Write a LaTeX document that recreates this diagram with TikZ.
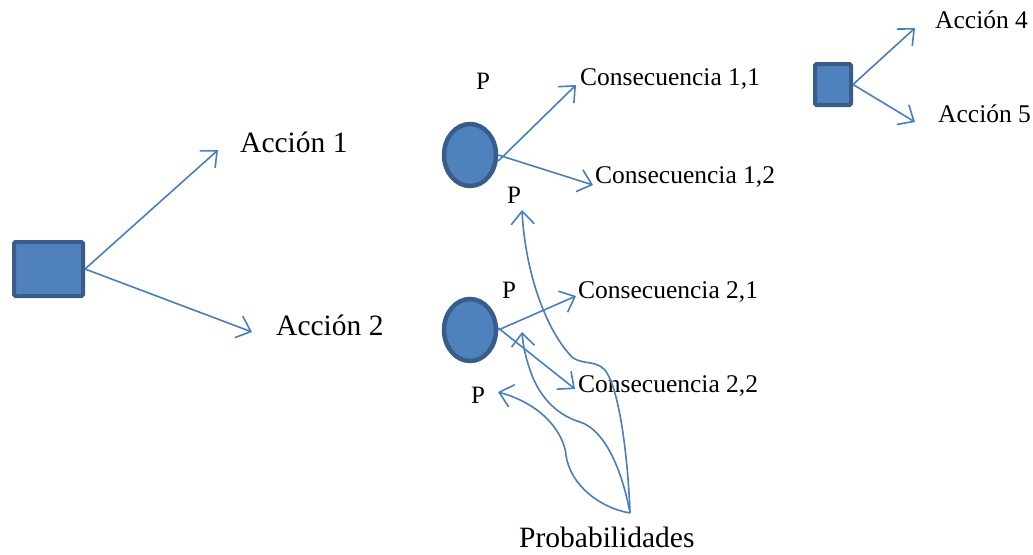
\documentclass[tikz,border=0pt]{standalone}
\usepackage{fontspec}
\setmainfont{Liberation Serif}
\usetikzlibrary{arrows.meta,shapes.geometric}
\definecolor{treeBlue}{HTML}{4F81BD}
\definecolor{treeEdge}{HTML}{385D8A}
\definecolor{treeLine}{HTML}{4A7EBB}

\begin{document}
\begin{tikzpicture}[x=1pt,y=-1pt]
    \tikzset{
        decision/.style={rectangle,draw=treeEdge,fill=treeBlue,line width=4pt,rounded corners=1.5pt,inner sep=0pt},
        chance/.style={ellipse,draw=treeEdge,fill=treeBlue,line width=4.5pt,minimum width=52pt,minimum height=62pt,inner sep=0pt},
        branch/.style={treeLine,line width=1.6pt,-{Straight Barb[length=13pt,width=23pt]}},
        lab/.style={anchor=base west,inner sep=0pt,font=\fontsize{25.5}{30}\selectfont},
        biglab/.style={lab,font=\fontsize{29.5}{34}\selectfont}
    }
    \useasboundingbox (0,0) rectangle (1033,554);

    % decision and chance nodes
    \node[decision,minimum width=69pt,minimum height=54pt] (root) at (48.5,269) {};
    \node[chance] (c1) at (470,155) {};
    \node[chance] (c2) at (470,330) {};
    \node[decision,minimum width=36pt,minimum height=41pt] (sq) at (833,84.5) {};

    % labels
    \node[biglab] (acc1) at (240,152) {Acción 1};
    \node[biglab] (acc2) at (276,335) {Acción 2};
    \node[lab] (con11) at (580,85) {Consecuencia 1,1};
    \node[lab] (con12) at (595,183) {Consecuencia 1,2};
    \node[lab] (con21) at (578,298) {Consecuencia 2,1};
    \node[lab] (con22) at (578,392) {Consecuencia 2,2};
    \node[lab] (acc4) at (935,28) {Acción 4};
    \node[lab] (acc5) at (938,122) {Acción 5};
    \foreach \x/\y [count=\i] in {476/89,507/203,502/298,471/403}
        \node[lab,font=\fontsize{25}{30}\selectfont] (p\i) at (\x,\y) {P};
    \node[biglab] (prob) at (519,547) {Probabilidades};

    % arrow ends
    \coordinate (tAcc1) at (218,150);
    \coordinate (tAcc2) at (252,332);
    \coordinate (tCon11) at (576,85);
    \coordinate (tCon12) at (593,185);
    \coordinate (tCon21) at (576,296);
    \coordinate (tCon22) at (575,389);
    \coordinate (tAcc4) at (915,28);
    \coordinate (tAcc5) at (915,122);
    \coordinate (src) at (630,513);

    \draw[branch] (root.east) -- (tAcc1);
    \draw[branch] (root.east) -- (tAcc2);
    \draw[branch] ([yshift=-6pt]c1.east) -- (tCon11);
    \draw[branch] (c1.east) -- (tCon12);
    \draw[branch] (c2.east) -- (tCon21);
    \draw[branch] ([yshift=2pt]c2.east) -- (tCon22);
    \draw[branch] (sq.east) -- (tAcc4);
    \draw[branch] (sq.east) -- (tAcc5);

    % probability pointers
    \draw[branch] (src) .. controls (628,460) and (620,390) .. (605,370)
        .. controls (595,360) and (585,365) .. (573,358)
        .. controls (545,330) and (525,270) .. (522,210);
    \draw[branch] (src) .. controls (622,470) and (605,430) .. (580,422)
        .. controls (560,416) and (540,400) .. (530,370)
        .. controls (525,355) and (523,345) .. (522,332);
    \draw[branch] (src) .. controls (600,508) and (570,485) .. (566,455)
        .. controls (564,435) and (545,405) .. (498,392);
\end{tikzpicture}
\end{document}
